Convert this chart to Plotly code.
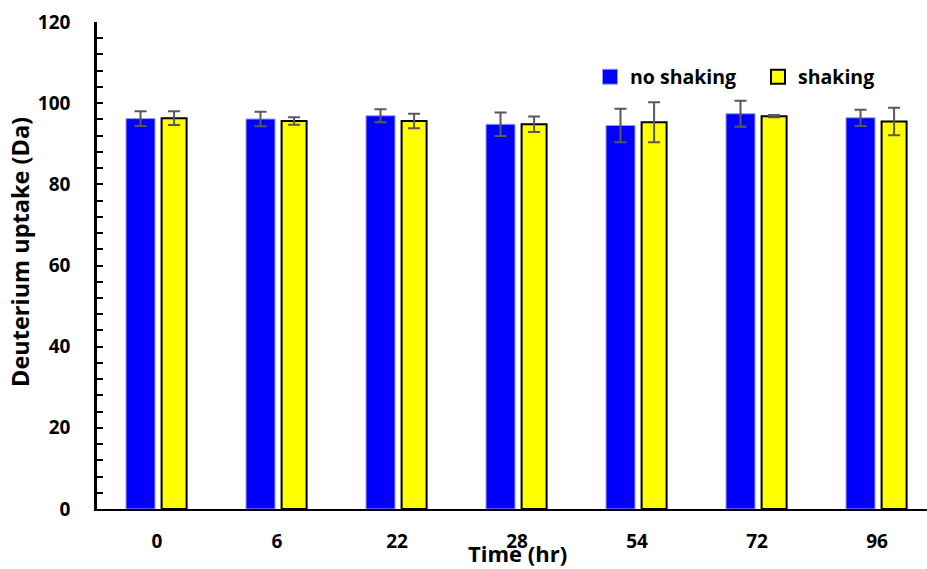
import plotly.graph_objects as go

times = ["0", "6", "22", "28", "54", "72", "96"]
no_shaking = [96.2, 96.1, 96.9, 94.8, 94.5, 97.4, 96.4]
no_shaking_err = [1.8, 1.8, 1.6, 2.9, 4.1, 3.2, 2.0]
shaking = [96.3, 95.6, 95.6, 94.8, 95.3, 96.8, 95.5]
shaking_err = [1.7, 0.9, 1.8, 1.9, 4.9, 0.3, 3.4]

W, H = 927, 569
L, R, T, B = 97, 0, 22, 60
FONT = "Open Sans"
CAT = 120.0  # px per category

BLUE, YELLOW = "#0000FF", "#FFFF00"

fig = go.Figure()
fig.add_trace(go.Bar(
    x=times, y=no_shaking, name="no shaking", showlegend=False,
    offset=-31 / CAT, width=29 / CAT,
    marker=dict(color=BLUE, line=dict(color="#9a9aff", width=1)),
    error_y=dict(type="data", array=no_shaking_err, color="#595959", thickness=2, width=6),
))
fig.add_trace(go.Bar(
    x=times, y=shaking, name="shaking", showlegend=False,
    offset=4.6 / CAT, width=25 / CAT,
    marker=dict(color=YELLOW, line=dict(color="#000000", width=2)),
    error_y=dict(type="data", array=shaking_err, color="#595959", thickness=2, width=6),
))
# legend entries (square swatches like the reference)
fig.add_trace(go.Scatter(
    x=[None], y=[None], mode="markers", name="no shaking",
    marker=dict(symbol="square", size=15, color=BLUE, line=dict(color="#9a9aff", width=1)),
))
fig.add_trace(go.Scatter(
    x=[None], y=[None], mode="markers", name="shaking",
    marker=dict(symbol="square", size=14, color=YELLOW, line=dict(color="#000000", width=2)),
))

pw = W - L - R
ph = H - T - B
fig.update_layout(
    width=W, height=H,
    margin=dict(l=L, r=R, t=T, b=B, autoexpand=False),
    paper_bgcolor="white", plot_bgcolor="white",
    barmode="overlay",
    font=dict(family=FONT, size=19, color="black"),
    showlegend=True,
    legend=dict(
        orientation="h", x=(590 - L) / pw, y=(H - B - 77) / ph, xanchor="left", yanchor="middle",
        font=dict(family=FONT, size=19.5, color="black", weight="bold"),
        entrywidth=123, entrywidthmode="pixels",
        bgcolor="rgba(0,0,0,0)",
    ),
    xaxis=dict(
        type="category", range=[-0.5, -0.5 + pw / CAT],
        showline=True, linecolor="black", linewidth=2,
        ticks="", showgrid=False, zeroline=False,
        tickfont=dict(family=FONT, size=19, color="black", weight="bold"),
        ticklabelstandoff=14,
    ),
    yaxis=dict(
        range=[0, 120], dtick=20, tick0=0,
        showline=True, linecolor="black", linewidth=2.5,
        ticks="inside", ticklen=6, tickwidth=2, tickcolor="black",
        minor=dict(dtick=4, ticks="inside", ticklen=6, tickwidth=2, tickcolor="black", showgrid=False),
        showgrid=False, zeroline=False,
        tickfont=dict(family=FONT, size=19, color="black", weight="bold"),
        ticklabelstandoff=20,
    ),
    annotations=[
        dict(text="<b>Time (hr)</b>", xref="paper", yref="paper",
             x=(517 - L) / pw, y=-(553 - (H - B)) / ph,
             xanchor="center", yanchor="middle", showarrow=False,
             font=dict(family=FONT, size=22, color="black")),
        dict(text="<b>Deuterium uptake (Da)</b>", xref="paper", yref="paper",
             x=-(L - 20) / pw, y=(H - B - 252) / ph, textangle=-90,
             xanchor="center", yanchor="middle", showarrow=False,
             font=dict(family=FONT, size=23.5, color="black")),
    ],
)

fig.write_html("out.html")
